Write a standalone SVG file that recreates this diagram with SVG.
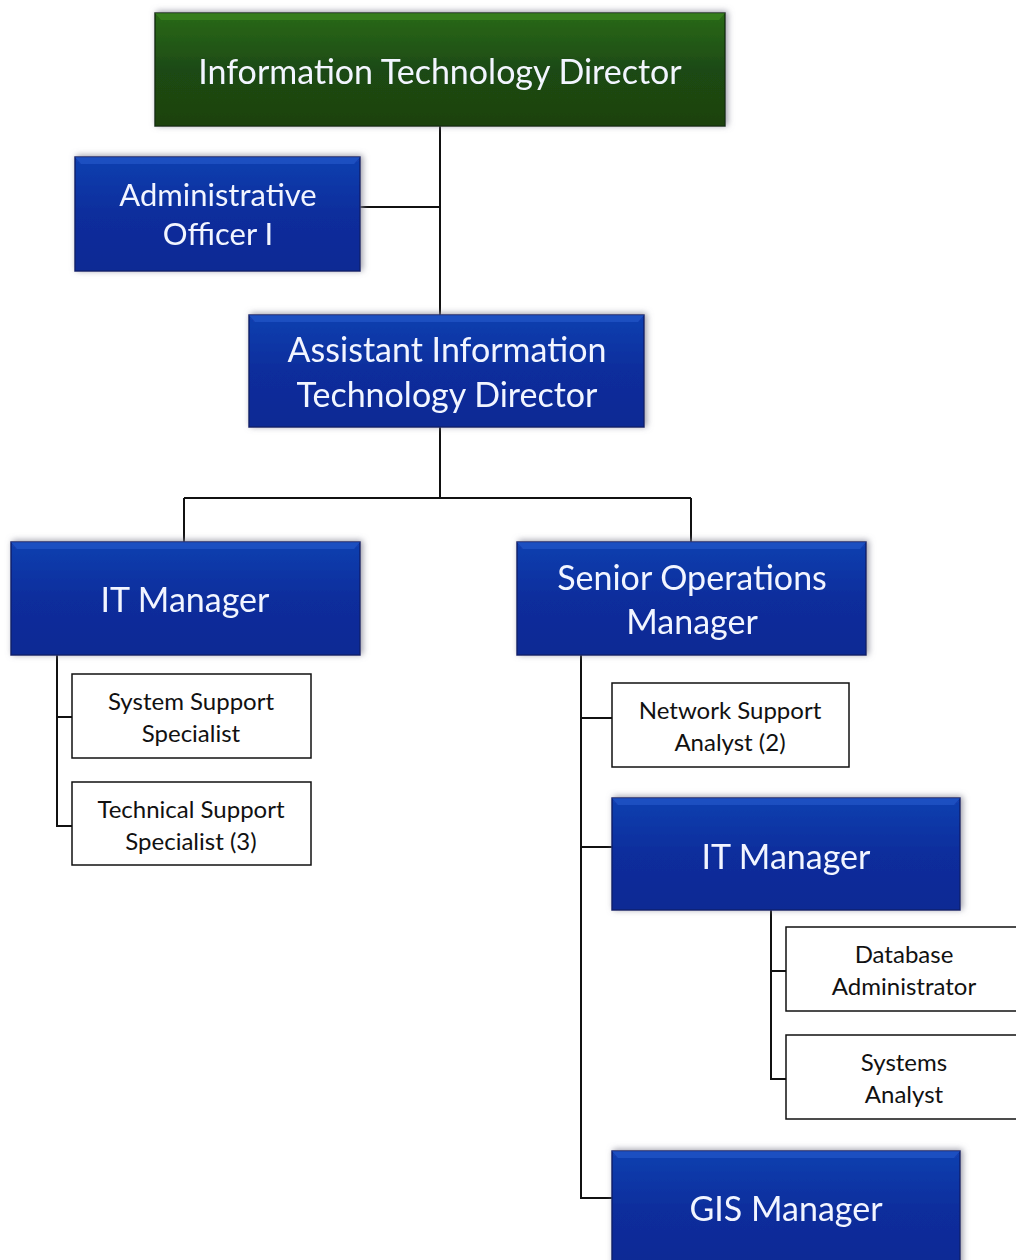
<svg xmlns="http://www.w3.org/2000/svg" width="1016" height="1260" viewBox="0 0 1016 1260">
<defs>
<linearGradient id="gBlue" x1="0" y1="0" x2="0" y2="1">
<stop offset="0" stop-color="#1240b0"/>
<stop offset="0.5" stop-color="#0a2d9c"/>
<stop offset="1" stop-color="#0a2a94"/>
</linearGradient>
<linearGradient id="gGreen" x1="0" y1="0" x2="0" y2="1">
<stop offset="0" stop-color="#2a6a18"/>
<stop offset="0.5" stop-color="#1d4a12"/>
<stop offset="1" stop-color="#1a4210"/>
</linearGradient>
<filter id="sh" x="-10%" y="-20%" width="120%" height="140%">
<feGaussianBlur in="SourceAlpha" stdDeviation="3"/>
<feOffset dx="2" dy="-1" result="b"/>
<feFlood flood-color="#8a8a99" flood-opacity="0.85"/>
<feComposite in2="b" operator="in"/>
<feMerge><feMergeNode/><feMergeNode in="SourceGraphic"/></feMerge>
</filter>
</defs>
<style>
.blue{fill:url(#gBlue);stroke:#0a1f6e;stroke-width:1.5}
.green{fill:url(#gGreen);stroke:#10300a;stroke-width:1.5}
.bevB{fill:#2a5cd0;opacity:0.55}
.bevG{fill:#3f8a25;opacity:0.6}
.big{font-family:Lato,"Open Sans",sans-serif;font-size:34px;fill:#f2f5ff;text-anchor:middle}
.mid{font-size:31px}
.small{font-family:Lato,"Open Sans",sans-serif;font-size:24px;fill:#111;text-anchor:middle}
.wbox{fill:#fff;stroke:#111;stroke-width:1.5}
.ln{fill:none;stroke:#111;stroke-width:2}
</style>
<rect width="1016" height="1260" fill="#fff"/>
<g id="connectors" class="ln">
<path d="M440 126V315M360 207H440"/>
<path d="M440 427V498M184 498H691M184 498V542M691 498V542"/>
<path d="M57 655V826H72M57 717H72"/>
<path d="M581 655V1198H612M581 718H612M581 847H612"/>
<path d="M771 910V1079H786M771 971H786"/>
</g>
<g id="it-director" filter="url(#sh)">
<rect class="green" x="155" y="13" width="570" height="113"/>
<polygon class="bevG" points="155,13 725,13 719,20 161,20"/>
<text class="big" x="440" y="84">Information Technology Director</text>
</g>
<g id="admin-officer" filter="url(#sh)">
<rect class="blue" x="75" y="157" width="285" height="114"/>
<polygon class="bevB" points="75,157 360,157 354,164 81,164"/>
<text class="big mid" x="218" y="206">Administrative</text>
<text class="big mid" x="218" y="245">Officer I</text>
</g>
<g id="assistant-director" filter="url(#sh)">
<rect class="blue" x="249" y="315" width="395" height="112"/>
<polygon class="bevB" points="249,315 644,315 638,322 255,322"/>
<text class="big" x="447" y="362">Assistant Information</text>
<text class="big" x="447" y="407">Technology Director</text>
</g>
<g id="it-manager-left" filter="url(#sh)">
<rect class="blue" x="11" y="542" width="349" height="113"/>
<polygon class="bevB" points="11,542 360,542 354,549 17,549"/>
<text class="big" x="185" y="612">IT Manager</text>
</g>
<g id="senior-ops" filter="url(#sh)">
<rect class="blue" x="517" y="542" width="349" height="113"/>
<polygon class="bevB" points="517,542 866,542 860,549 523,549"/>
<text class="big" x="692" y="590">Senior Operations</text>
<text class="big" x="692" y="634">Manager</text>
</g>
<g id="system-support">
<rect class="wbox" x="72" y="674" width="239" height="84"/>
<text class="small" x="191" y="710">System Support</text>
<text class="small" x="191" y="742">Specialist</text>
</g>
<g id="technical-support">
<rect class="wbox" x="72" y="782" width="239" height="83"/>
<text class="small" x="191" y="818">Technical Support</text>
<text class="small" x="191" y="850">Specialist (3)</text>
</g>
<g id="network-support">
<rect class="wbox" x="612" y="683" width="237" height="84"/>
<text class="small" x="730" y="719">Network Support</text>
<text class="small" x="730" y="751">Analyst (2)</text>
</g>
<g id="it-manager-right" filter="url(#sh)">
<rect class="blue" x="612" y="798" width="348" height="112"/>
<polygon class="bevB" points="612,798 960,798 954,805 618,805"/>
<text class="big" x="786" y="869">IT Manager</text>
</g>
<g id="database-admin">
<rect class="wbox" x="786" y="927" width="240" height="84"/>
<text class="small" x="904" y="963">Database</text>
<text class="small" x="904" y="995">Administrator</text>
</g>
<g id="systems-analyst">
<rect class="wbox" x="786" y="1035" width="240" height="84"/>
<text class="small" x="904" y="1071">Systems</text>
<text class="small" x="904" y="1103">Analyst</text>
</g>
<g id="gis-manager" filter="url(#sh)">
<rect class="blue" x="612" y="1151" width="348" height="120"/>
<polygon class="bevB" points="612,1151 960,1151 954,1158 618,1158"/>
<text class="big" x="786" y="1221">GIS Manager</text>
</g>
</svg>
